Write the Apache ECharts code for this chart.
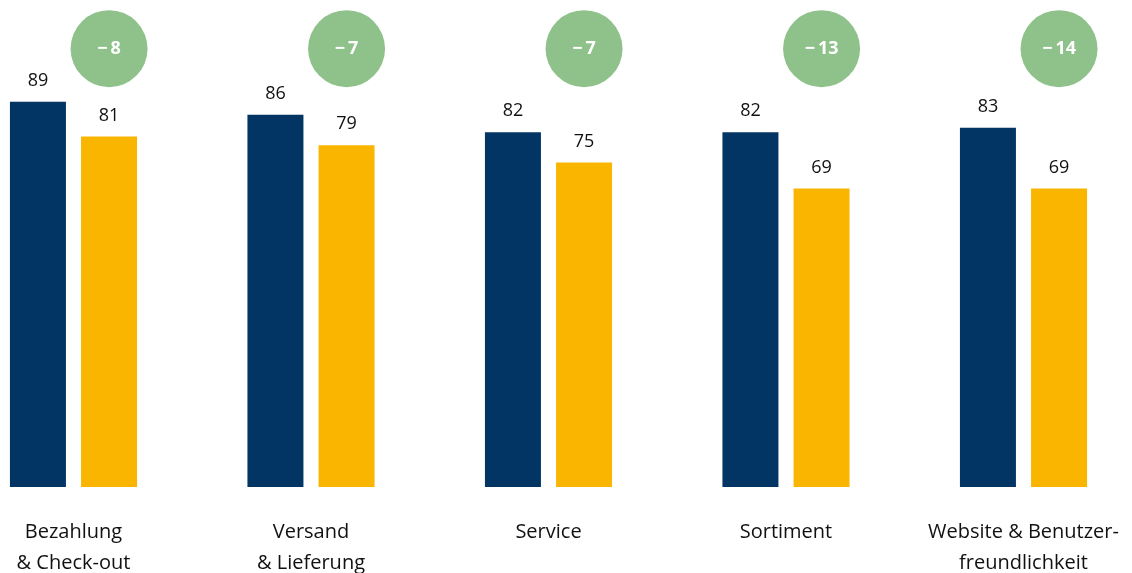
<!DOCTYPE html>
<html>
<head>
<meta charset="utf-8">
<script src="https://cdn.jsdelivr.net/npm/echarts@6/dist/echarts.min.js"></script>
<style>
  html, body { margin: 0; padding: 0; background: #ffffff; }
  #chart { width: 1132px; height: 573px; }
</style>
</head>
<body>
<div id="chart"></div>
<script>
// Satisfaction scores per shopping area: earlier vs. current survey
const categories = ['Bezahlung\n& Check-out', 'Versand\n& Lieferung', 'Service', 'Sortiment', 'Website & Benutzer-\nfreundlichkeit'];
const valuesBefore = [89, 86, 82, 82, 83];
const valuesAfter = [81, 79, 75, 69, 69];
// vertical position (in axis units) of the change badges above the bars
const badgeLevel = 101.3;

const NAVY = '#023563';
const YELLOW = '#F9B500';
const GREEN = '#8FC28B';
const FONT = '"Open Sans", "Noto Sans", sans-serif';

const deltas = valuesAfter.map((v, i) => v - valuesBefore[i]);
const fmtDelta = d => (d < 0 ? '\u2212\u2009' : '+\u2009') + Math.abs(d);

const chart = echarts.init(document.getElementById('chart'));

const valueLabel = {
  show: true,
  position: 'top',
  distance: 12,
  color: '#111111',
  fontFamily: FONT,
  fontSize: 18,
  fontWeight: 500
};

chart.setOption({
  animation: false,
  backgroundColor: '#ffffff',
  grid: {
    left: -45.25, right: -10.25, top: 11, bottom: 86,
    containLabel: false,
    outerBoundsMode: 'none'
  },
  xAxis: {
    type: 'category',
    data: categories,
    axisLine: { show: false },
    axisTick: { show: false },
    axisLabel: {
      interval: 0,
      margin: 30,
      color: '#111111',
      fontFamily: FONT,
      fontSize: 20,
      lineHeight: 31
    }
  },
  yAxis: {
    type: 'value',
    min: 0,
    max: 110,
    show: false,
    splitLine: { show: false }
  },
  series: [
    {
      type: 'bar',
      name: 'vorher',
      data: valuesBefore,
      barWidth: 56,
      barGap: '27%',
      itemStyle: { color: NAVY },
      label: valueLabel
    },
    {
      type: 'bar',
      name: 'aktuell',
      data: valuesAfter,
      barWidth: 56,
      itemStyle: { color: YELLOW },
      label: valueLabel,
      markPoint: {
        symbol: 'circle',
        symbolSize: 77,
        silent: true,
        itemStyle: { color: GREEN },
        label: {
          show: true,
          position: 'inside',
          color: '#ffffff',
          fontFamily: FONT,
          fontSize: 18,
          fontWeight: 'bold',
          formatter: p => fmtDelta(p.data.delta)
        },
        data: deltas.map((d, i) => ({ coord: [i, badgeLevel], delta: d }))
      }
    }
  ]
});
</script>
</body>
</html>
